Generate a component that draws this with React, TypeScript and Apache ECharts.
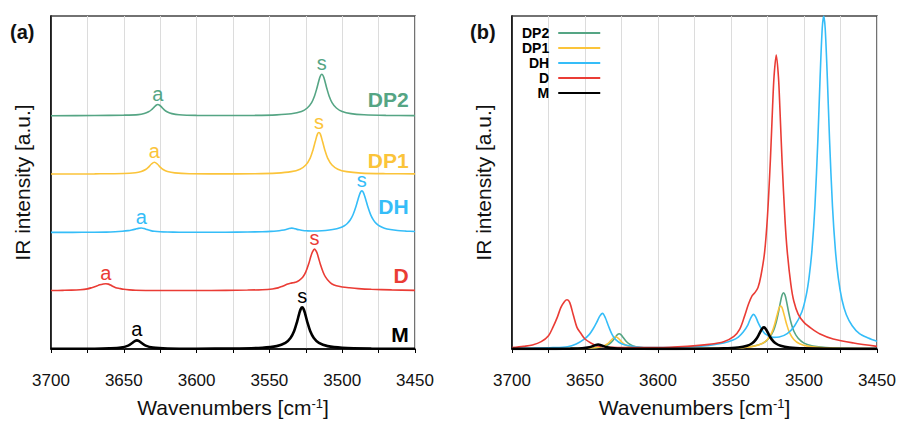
import React, { useEffect, useRef } from "react";
import * as echarts from "echarts";

// ---------- data ----------
const seriesNames = ["DP2", "DP1", "DH", "D", "M"];
const seriesColors = ["#55a584", "#fbc43a", "#35bdf8", "#ea3c35", "#000000"];

const dp2Wn = [3700, 3670, 3650, 3640, 3636, 3633, 3631, 3629, 3627.8, 3626.6, 3625.4, 3624, 3622, 3620, 3617, 3612, 3600, 3580, 3560, 3545, 3535, 3528, 3524, 3521, 3519, 3517.5, 3516, 3515, 3514, 3513, 3512, 3510.5, 3509, 3507, 3504, 3500, 3494, 3485, 3470, 3450];
const dp2Int = [0.05, 0.15, 0.3, 0.52, 0.95, 1.66, 2.5, 3.68, 4.33, 4.6, 4.33, 3.56, 2.39, 1.59, 0.92, 0.45, 0.2, 0.15, 0.2, 0.4, 0.84, 1.77, 3.2, 5.4, 8.1, 11.0, 14.4, 16.2, 16.9, 16.2, 14.4, 11.0, 8.1, 5.4, 3.2, 1.77, 0.91, 0.45, 0.2, 0.1];

const dp1Wn = [3700, 3670, 3650, 3642, 3638, 3635, 3633, 3631, 3629, 3627, 3625, 3623, 3620, 3615, 3605, 3585, 3560, 3545, 3535, 3529, 3525, 3522, 3520, 3518.5, 3517, 3516, 3515, 3513.5, 3512, 3510, 3507, 3503, 3497, 3487, 3470, 3450];
const dp1Int = [0.04, 0.1, 0.2, 0.45, 0.82, 1.44, 2.18, 3.15, 3.7, 3.15, 2.18, 1.44, 0.82, 0.4, 0.15, 0.1, 0.15, 0.34, 0.78, 1.55, 2.85, 5.0, 7.6, 10.1, 12.4, 12.9, 12.4, 10.1, 7.6, 5.0, 2.85, 1.55, 0.78, 0.34, 0.15, 0.08];

const dhWn = [3700, 3685, 3672, 3662, 3656, 3651, 3647, 3644.5, 3642, 3640, 3638, 3636, 3634, 3631.5, 3629, 3625, 3620, 3612, 3600, 3580, 3565, 3555, 3549, 3545, 3541.5, 3538.5, 3536.5, 3534.6, 3533, 3531.5, 3529.5, 3527, 3524, 3521, 3517, 3511.5, 3506.5, 3501.5, 3498.5, 3496.5, 3494.5, 3492.5, 3490.5, 3489, 3487.5, 3486.5, 3485.5, 3484, 3482.5, 3480.5, 3478.5, 3476.5, 3474, 3471, 3467, 3462, 3456, 3450];
const dhInt = [0.2, 0.25, 0.4, 0.7, 1.5, 2.8, 4.4, 6.0, 8.0, 9.8, 10.7, 9.3, 7.0, 4.4, 2.8, 1.6, 1.0, 0.5, 0.4, 0.6, 1.1, 1.8, 2.6, 3.6, 5.2, 7.2, 9.3, 10.4, 9.6, 8.0, 6.3, 4.7, 3.9, 3.5, 3.6, 4.6, 6.9, 11.1, 16.1, 21.6, 29.9, 43, 62.8, 81.2, 96.4, 100, 96.4, 81.2, 62.8, 42.9, 29.7, 21.3, 14.8, 10.3, 7.0, 4.6, 3.3, 2.3];

const dWn = [3700, 3692, 3686, 3680, 3675, 3672, 3669, 3666.5, 3664, 3662.3, 3660.5, 3658, 3655.5, 3653, 3650, 3646, 3642, 3635, 3620, 3600, 3580, 3565, 3555, 3548, 3544, 3541, 3538, 3535.5, 3533.5, 3531.5, 3529.5, 3527, 3525, 3523, 3521.5, 3520.5, 3519, 3517.5, 3516.5, 3515, 3513, 3511.5, 3509, 3507, 3504, 3500, 3495, 3489, 3480, 3466, 3450];
const dInt = [0.4, 0.8, 1.2, 2.2, 4.0, 6.5, 9.5, 12.5, 14.3, 14.8, 14.0, 10.2, 6.5, 4.8, 3.0, 1.8, 1.0, 0.6, 0.4, 0.4, 0.8, 1.4, 2.2, 3.8, 6.0, 9.5, 13.5, 16.0, 17.0, 18.5, 22, 29, 40, 57, 73, 82, 88.3, 81.7, 72.2, 56.2, 38.7, 29.4, 19.4, 14.4, 10.5, 8.0, 6.2, 4.5, 3.0, 1.8, 0.8];

const mWn = [3700, 3670, 3660, 3652, 3647, 3644, 3642.5, 3641, 3639.5, 3638, 3635, 3630, 3620, 3600, 3575, 3555, 3545, 3539, 3535.5, 3533, 3531, 3529.5, 3528.5, 3527.5, 3526.5, 3525.5, 3524, 3522, 3519.5, 3516, 3510, 3500, 3480, 3450];
const mInt = [0.03, 0.05, 0.1, 0.22, 0.53, 0.97, 1.23, 1.35, 1.23, 0.97, 0.53, 0.22, 0.08, 0.05, 0.07, 0.19, 0.45, 0.96, 1.72, 2.81, 4.25, 5.54, 6.23, 6.5, 6.23, 5.54, 4.25, 2.81, 1.72, 0.96, 0.45, 0.19, 0.07, 0.03];

// peak positions (wavenumber) of the symmetric (s) and antisymmetric (a) bands
const sPeakWn = [3514, 3516, 3486.5, 3519, 3527.5];
const aPeakWn = [3626.6, 3629, 3638, 3662.3, 3641];

const xTickLabels = [3700, 3650, 3600, 3550, 3500, 3450];

// ---------- layout ----------
const OFFSET_STEP = 1.4;
const nameLift = [0.39, 0.32, 0.62, 0.37, 0.35];
const FONT = "'Liberation Sans', Arial, Helvetica, sans-serif";

export default function App() {
  const ref = useRef<HTMLDivElement>(null);

  useEffect(() => {
    document.body.style.margin = "0";
    const chart = echarts.init(ref.current as HTMLDivElement, null, { renderer: "svg" });

    const wnList = [dp2Wn, dp1Wn, dhWn, dWn, mWn];
    const intList = [dp2Int, dp1Int, dhInt, dInt, mInt];

    const seriesA = seriesNames.map((name, i) => {
      const wn = wnList[i];
      const val = intList[i];
      const max = Math.max(...val);
      const off = (seriesNames.length - 1 - i) * OFFSET_STEP;
      const data = wn.map((w, k) => [w, val[k] / max + off]);
      const at = (w: number) => data[wn.indexOf(w)][1];
      return {
        type: "line",
        name,
        xAxisIndex: 0,
        yAxisIndex: 0,
        data,
        symbol: "none",
        showSymbol: false,
        smooth: 0.3,
        lineStyle: { color: seriesColors[i], width: name === "M" ? 2.6 : 1.6 },
        itemStyle: { color: seriesColors[i] },
        markPoint: {
          symbol: "circle",
          symbolSize: 0,
          silent: true,
          label: {
            show: true,
            position: "top",
            distance: 1,
            color: seriesColors[i],
            fontSize: 20,
            fontFamily: FONT,
            formatter: "{b}",
          },
          data: [
            { name: "s", coord: [sPeakWn[i], at(sPeakWn[i])] },
            { name: "a", coord: [aPeakWn[i], at(aPeakWn[i])] },
            {
              name,
              coord: [3453, off + nameLift[i]],
              label: { position: "left", distance: 2, fontWeight: "bold", fontSize: 21 },
            },
          ],
        },
      };
    });

    const seriesB = seriesNames.map((name, i) => {
      const wn = wnList[i];
      const val = intList[i];
      return {
        type: "line",
        name,
        xAxisIndex: 1,
        yAxisIndex: 1,
        data: wn.map((w, k) => [w, val[k]]),
        symbol: "none",
        showSymbol: false,
        smooth: 0.3,
        lineStyle: { color: seriesColors[i], width: name === "M" ? 2.6 : 1.6 },
        itemStyle: { color: seriesColors[i] },
      };
    });

    const xAxisBase = (gridIndex: number) => ({
      type: "value",
      gridIndex,
      min: 3450,
      max: 3700,
      interval: 25,
      inverse: true,
      axisLine: { show: true, onZero: false, lineStyle: { color: "#000", width: 1.5 } },
      axisTick: { show: true, length: 4, lineStyle: { color: "#000", width: 1 } },
      splitLine: { show: true, lineStyle: { color: "#dcdcdc", width: 1 } },
      axisLabel: {
        fontSize: 17,
        color: "#111",
        margin: 23,
        fontFamily: FONT,
        showMinLabel: true,
        showMaxLabel: true,
        formatter: (v: number) => (xTickLabels.includes(v) ? String(v) : ""),
      },
      name: "Wavenumbers [cm{sup|-1}]",
      nameLocation: "middle",
      nameGap: 48,
      nameTextStyle: {
        fontSize: 21,
        color: "#111",
        fontFamily: FONT,
        rich: { sup: { fontSize: 13, verticalAlign: "top", lineHeight: 13, fontFamily: FONT, color: "#111" } },
      },
    });

    const yAxisBase = (gridIndex: number, max: number) => ({
      type: "value",
      gridIndex,
      min: 0,
      max,
      axisLine: { show: true, onZero: false, lineStyle: { color: "#000", width: 1.5 } },
      axisTick: { show: false },
      axisLabel: { show: false },
      splitLine: { show: false },
      name: "IR intensity [a.u.]",
      nameLocation: "middle",
      nameGap: 18,
      nameTextStyle: { fontSize: 21, color: "#111", fontFamily: FONT },
    });

    chart.setOption({
      animation: false,
      backgroundColor: "#ffffff",
      title: [
        { text: "(a)", left: 10, top: 22, padding: 0, textStyle: { fontSize: 20, fontWeight: "bold", color: "#111", fontFamily: FONT } },
        { text: "(b)", left: 470, top: 22, padding: 0, textStyle: { fontSize: 20, fontWeight: "bold", color: "#111", fontFamily: FONT } },
      ],
      legend: {
        data: seriesNames,
        orient: "vertical",
        align: "right",
        left: 522,
        top: 26,
        padding: 0,
        itemGap: 1,
        itemWidth: 42,
        itemHeight: 2,
        icon: "rect",
        selectedMode: false,
        textStyle: { fontSize: 14, fontWeight: "bold", color: "#000", fontFamily: FONT, lineHeight: 14, padding: [0, 4, 0, 0] },
      },
      grid: [
        { left: 51, top: 16, width: 364, height: 335, show: true, borderColor: "#444", borderWidth: 1.5 },
        { left: 512, top: 16, width: 365, height: 335, show: true, borderColor: "#444", borderWidth: 1.5 },
      ],
      xAxis: [xAxisBase(0), xAxisBase(1)],
      yAxis: [yAxisBase(0, 8), yAxisBase(1, 100)],
      series: [...seriesA, ...seriesB],
    });

    return () => chart.dispose();
  }, []);

  return <div ref={ref} style={{ width: 899, height: 423 }} />;
}
